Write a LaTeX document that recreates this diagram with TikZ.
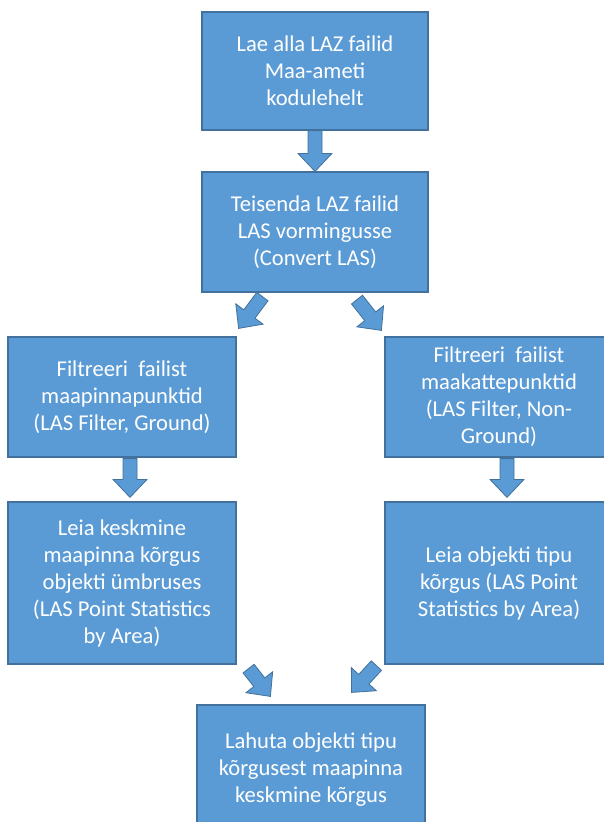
\documentclass[tikz,border=0pt]{standalone}
\usepackage{fontspec}
\setmainfont{Carlito}
\usepackage{tikz}
\usetikzlibrary{calc}
\definecolor{stepblue}{RGB}{91, 155, 213}
\definecolor{stepline}{RGB}{65, 113, 156}
\tikzstyle{stepbox} = [rectangle, draw=stepline, fill=stepblue, line width=1.2pt, text=white, align=center, inner sep=0pt, minimum width=228pt, font=\fontsize{22.6}{27}\selectfont]
\tikzstyle{blockarrow} = [draw=stepline, fill=stepblue, line width=0.8pt, line join=miter]
% block arrow from tail #1 to tip #2
\newcommand{\blockarr}[2]{%
    \coordinate (tl) at (#1);
    \coordinate (ht) at (#2);
    \coordinate (hb) at ($(ht)!18pt!(tl)$);
    \filldraw[blockarrow] ($(tl)!7pt!90:(ht)$) -- ($(hb)!7pt!-90:(tl)$) -- ($(hb)!17pt!-90:(tl)$) -- (ht)
        -- ($(hb)!17pt!90:(tl)$) -- ($(hb)!7pt!90:(tl)$) -- ($(tl)!7pt!-90:(ht)$) -- cycle;
}

\begin{document}
\begin{tikzpicture}[x=1pt, y=-1pt]
    \useasboundingbox (0,0) rectangle (604,822);
    \clip (0,0) rectangle (604,822);

    % Steps
    \node[stepbox, minimum width=226pt, minimum height=118pt] (load) at (315,71) {Lae alla LAZ failid\\Maa-ameti\\kodulehelt};
    \node[stepbox, minimum width=226pt, minimum height=120pt] (convert) at (315,232) {Teisenda LAZ failid\\LAS vormingusse\\(Convert LAS)};
    \node[stepbox, minimum height=120pt] (ground) at (122,397) {Filtreeri\ \ failist\\maapinnapunktid\\(LAS Filter, Ground)};
    \node[stepbox, minimum height=120pt] (nonground) at (499,397) {Filtreeri\ \ failist\\maakattepunktid\\(LAS Filter, Non-\\Ground)};
    \node[stepbox, minimum height=162pt] (meanz) at (122,583) {Leia keskmine\\maapinna kõrgus\\objekti ümbruses\\(LAS Point Statistics\\by Area)};
    \node[stepbox, minimum height=162pt] (topz) at (499,583) {Leia objekti tipu\\kõrgus (LAS Point\\Statistics by Area)};
    \node[stepbox, minimum height=130pt] (diff) at (311,770) {Lahuta objekti tipu\\kõrgusest maapinna\\keskmine kõrgus};

    % Block arrows
    \blockarr{load.south}{convert.north}
    \blockarr{$(convert.south west)+(61,4)$}{$(ground.north east)+(2,-8)$}
    \blockarr{$(convert.south)+(42,7)$}{$(nonground.north west)+(-3,-6)$}
    \blockarr{$(ground.south)+(8,1)$}{$(meanz.north)+(8,-4)$}
    \blockarr{$(nonground.south)+(8,1)$}{$(topz.north)+(8,-4)$}
    \blockarr{$(meanz.south east)+(12,4)$}{$(diff.north west)+(74,-8)$}
    \blockarr{$(topz.south west)+(-8,1)$}{$(diff.north east)+(-74,-12)$}
\end{tikzpicture}
\end{document}
